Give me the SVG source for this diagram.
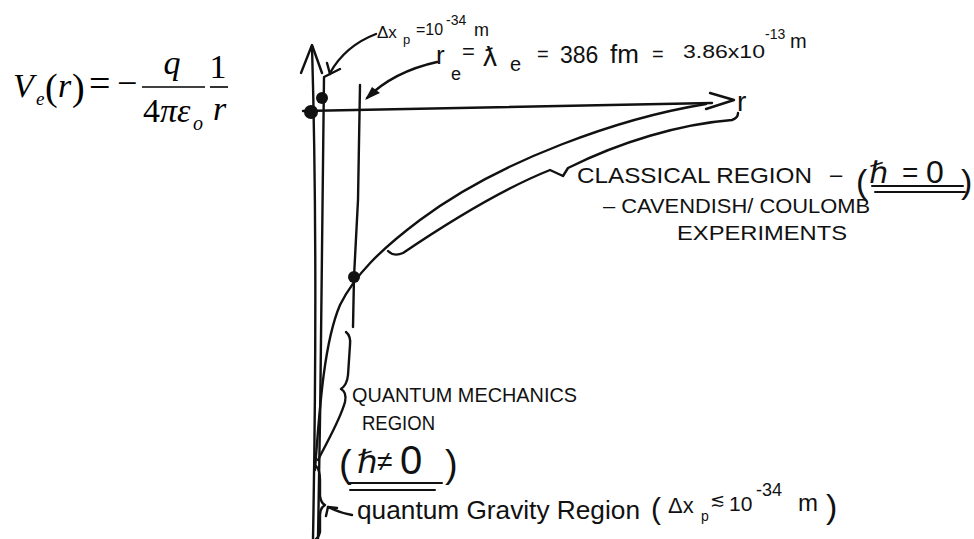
<svg xmlns="http://www.w3.org/2000/svg" width="974" height="539" viewBox="0 0 974 539">
<style>
.ln{fill:none;stroke:#111;stroke-width:2.4;stroke-linecap:round;stroke-linejoin:round}
.thin{fill:none;stroke:#111;stroke-width:2;stroke-linecap:round}
.dot{fill:#111}
.hw{font-family:"Liberation Sans","DejaVu Sans",sans-serif;fill:#111}
.m{font-family:"Liberation Serif","DejaVu Serif",serif;fill:#000}
.i{font-style:italic}
</style>
<rect width="974" height="539" fill="#fff"/>
<g id="formula">
  <text class="m i" x="13" y="97" font-size="34">V</text>
  <text class="m i" x="36" y="105" font-size="19">e</text>
  <text class="m" x="45" y="100" font-size="38">(</text>
  <text class="m i" x="58" y="97" font-size="34">r</text>
  <text class="m" x="72" y="100" font-size="38">)</text>
  <text class="m" x="89" y="96" font-size="38">=</text>
  <text class="m" x="117" y="95" font-size="36">−</text>
  <line x1="142" y1="87" x2="205" y2="87" stroke="#000" stroke-width="1.6"/>
  <text class="m i" x="172" y="74" font-size="34" text-anchor="middle">q</text>
  <text class="m" x="143" y="122" font-size="34">4<tspan class="i">πε</tspan></text>
  <text class="m i" x="193" y="130" font-size="20">o</text>
  <line x1="210" y1="87" x2="228" y2="87" stroke="#000" stroke-width="1.6"/>
  <text class="m" x="218" y="78" font-size="34" text-anchor="middle">1</text>
  <text class="m i" x="213" y="120" font-size="34">r</text>
</g>
<g id="connectors">
  <path class="ln" d="M312,46 C315,150 317,320 313,539"/>
  <path class="ln" d="M301,73 L312,45 L322,73"/>
  <path class="ln" d="M330,74 L324,77 C323,200 321,380 318,539"/>
  <path class="ln" d="M360,85 L358,200 L354,277 L353,327"/>
  <path class="ln" d="M303,111 Q500,108 712,103"/>
  <path class="ln" d="M710,93 L734,100 L706,109"/>
  <path class="ln" d="M706,104 C620,118 500,160 420,220 C380,250 355,275 340,305 C325,340 320,400 315,470"/>
  <path class="ln" d="M388,251 Q394,257 403,253 C440,228 500,190 550,170 L563,176 L568,168 C620,142 680,124 732,120 Q738,118 738,113"/>
  <path class="ln" d="M346,332 Q351,336 350,345 L348,375 Q347,385 341,389 Q347,392 345,402 C340,420 328,440 318,460"/>
  <path class="ln" d="M316,466 Q320,470 320,480 L320,496 Q321,503 325,505 Q320,508 320,515 L320,532 Q319,537 316,539"/>
  <path class="ln" d="M352,515 Q340,513 328,507"/>
  <path class="ln" d="M326,516 L328,507 L337,508"/>
  <path class="ln" d="M376,34 C355,42 340,55 330,73"/>
  <path class="ln" d="M327,63 L330,74 L340,69"/>
  <path class="ln" d="M437,62 C410,68 385,80 367,98"/>
  <path d="M365,100 L372,87 L380,93 Z" fill="#111"/>
  <circle class="dot" cx="322" cy="98" r="6"/>
  <circle class="dot" cx="311" cy="112" r="7"/>
  <circle class="dot" cx="354" cy="277" r="6"/>
</g>
<g id="label-dxp">
  <text class="hw" x="377" y="38" font-size="17">Δx</text>
  <text class="hw" x="403" y="44" font-size="13">p</text>
  <text class="hw" x="416" y="35" font-size="16">=10</text>
  <text class="hw" x="446" y="25" font-size="14">-34</text>
  <text class="hw" x="474" y="36" font-size="18">m</text>
</g>
<g id="label-re">
  <text class="hw" x="436" y="64" font-size="26">r</text>
  <text class="hw" x="451" y="80" font-size="18">e</text>
  <text class="hw" x="462" y="59" font-size="22">=</text>
  <text class="hw" x="483" y="66" font-size="28">ƛ</text>
  <text class="hw" x="510" y="71" font-size="20">e</text>
  <text class="hw" x="537" y="61" font-size="20">=</text>
  <text class="hw" x="560" y="63" font-size="23">386</text>
  <text class="hw" x="610" y="63" font-size="26">fm</text>
  <text class="hw" x="652" y="61" font-size="20">=</text>
  <text class="hw" x="683" y="58" font-size="19" textLength="82" lengthAdjust="spacingAndGlyphs">3.86x10</text>
  <text class="hw" x="765" y="39" font-size="14">-13</text>
  <text class="hw" x="790" y="48" font-size="20">m</text>
</g>
<g id="label-r">
  <text class="hw" x="737" y="111" font-size="28">r</text>
</g>
<g id="label-classical">
  <text class="hw" x="577" y="183" font-size="22" textLength="235" lengthAdjust="spacingAndGlyphs">CLASSICAL REGION</text>
  <text class="hw" x="830" y="182" font-size="22">–</text>
  <text class="hw" x="856" y="193" font-size="34">(</text>
  <text class="hw" x="869" y="183" font-size="30">ℏ</text>
  <text class="hw" x="902" y="182" font-size="28">=</text>
  <text class="hw" x="926" y="183" font-size="32">0</text>
  <text class="hw" x="961" y="193" font-size="34">)</text>
  <line class="thin" x1="872" y1="186" x2="963" y2="186"/>
  <line class="thin" x1="875" y1="192" x2="965" y2="192"/>
  <text class="hw" x="603" y="213" font-size="21" textLength="267" lengthAdjust="spacingAndGlyphs">– CAVENDISH/ COULOMB</text>
  <text class="hw" x="677" y="240" font-size="21" textLength="170" lengthAdjust="spacingAndGlyphs">EXPERIMENTS</text>
</g>
<g id="label-quantum-mechanics">
  <text class="hw" x="352" y="402" font-size="20" textLength="225" lengthAdjust="spacingAndGlyphs">QUANTUM MECHANICS</text>
  <text class="hw" x="362" y="430" font-size="20" textLength="73" lengthAdjust="spacingAndGlyphs">REGION</text>
  <text class="hw" x="339" y="477" font-size="38">(</text>
  <text class="hw" x="357" y="473" font-size="32">ℏ</text>
  <text class="hw" x="377" y="471" font-size="28">≠</text>
  <text class="hw" x="400" y="474" font-size="40">0</text>
  <text class="hw" x="445" y="477" font-size="38">)</text>
  <line class="thin" x1="348" y1="483" x2="442" y2="483"/>
  <line class="thin" x1="350" y1="490" x2="435" y2="490"/>
</g>
<g id="label-quantum-gravity">
  <text class="hw" x="357" y="519" font-size="26" textLength="283" lengthAdjust="spacingAndGlyphs">quantum Gravity Region</text>
  <text class="hw" x="651" y="519" font-size="30">(</text>
  <text class="hw" x="668" y="513" font-size="22">Δx</text>
  <text class="hw" x="701" y="521" font-size="14">p</text>
  <text class="hw" x="710" y="506" font-size="18">≲</text>
  <text class="hw" x="729" y="511" font-size="21">10</text>
  <text class="hw" x="756" y="496" font-size="18">-34</text>
  <text class="hw" x="798" y="511" font-size="24">m</text>
  <text class="hw" x="826" y="518" font-size="34">)</text>
</g>
</svg>
